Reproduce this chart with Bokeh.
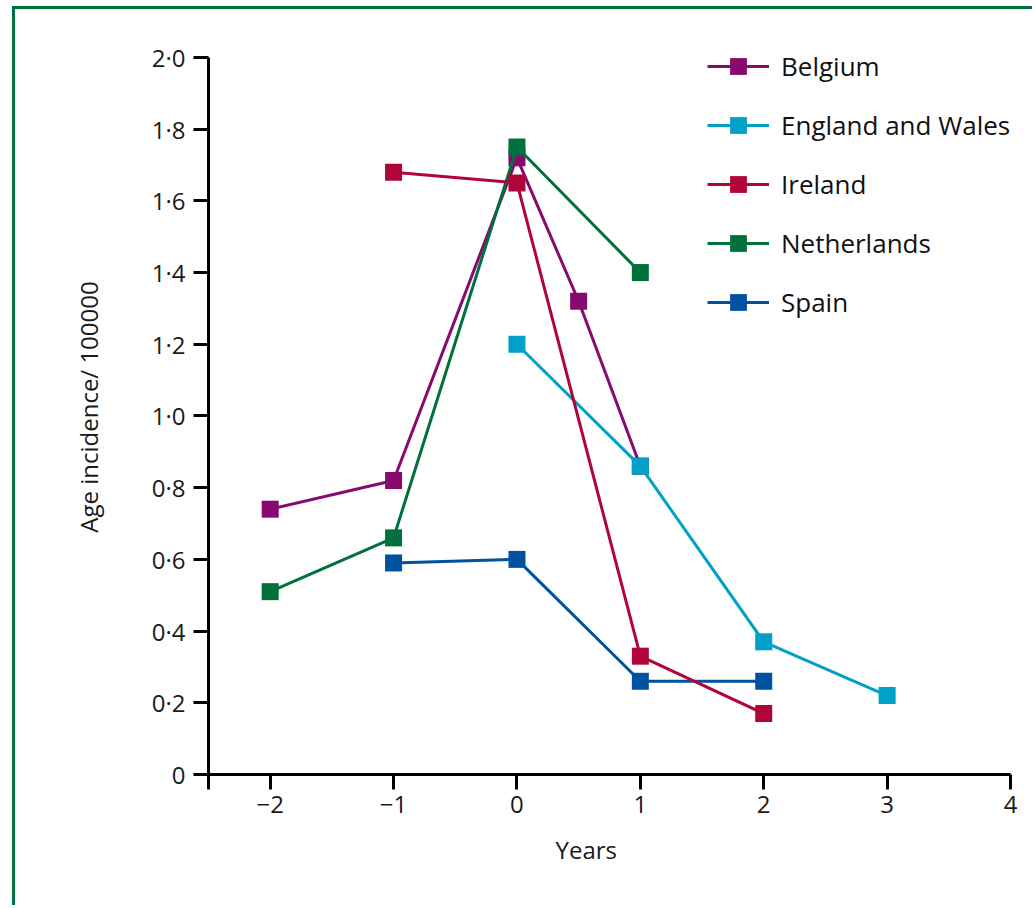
from bokeh.plotting import figure
from bokeh.models import (Range1d, FixedTicker, CustomJSTickFormatter, Legend, LegendItem, Title, LinearAxis)
from bokeh.embed import file_html
from bokeh.resources import INLINE

# ---- data ----
series_names = ["Belgium", "England and Wales", "Ireland", "Netherlands", "Spain"]
belgium_x = [-2, -1, 0, 0.5, 1]
belgium_y = [0.74, 0.82, 1.72, 1.32, 0.86]
england_x = [0, 1, 2, 3]
england_y = [1.20, 0.86, 0.37, 0.22]
ireland_x = [-1, 0, 1, 2]
ireland_y = [1.68, 1.65, 0.33, 0.17]
netherlands_x = [-2, -1, 0, 1]
netherlands_y = [0.51, 0.66, 1.75, 1.40]
spain_x = [-1, 0, 1, 2]
spain_y = [0.59, 0.60, 0.26, 0.26]
x_ticks = [-2.5, -2, -1, 0, 1, 2, 3, 4]
y_ticks = [0, 0.2, 0.4, 0.6, 0.8, 1.0, 1.2, 1.4, 1.6, 1.8, 2.0]
x_label = "Years"
y_label = "Age incidence/ 100000"

colors = {
    "Belgium": "#870A6E",
    "England and Wales": "#00A0C8",
    "Ireland": "#B00538",
    "Netherlands": "#00703C",
    "Spain": "#0052A0",
}
data = {
    "Belgium": (belgium_x, belgium_y),
    "England and Wales": (england_x, england_y),
    "Ireland": (ireland_x, ireland_y),
    "Netherlands": (netherlands_x, netherlands_y),
    "Spain": (spain_x, spain_y),
}

FONT = "Open Sans"

p = figure(width=1020, height=899, x_range=Range1d(-2.5, 4.0), y_range=Range1d(0, 2.05),
           output_backend="svg", toolbar_location=None,
           min_border_left=193, min_border_right=25, min_border_top=30, min_border_bottom=134,
           x_axis_location=None, y_axis_location=None)
p.margin = (6, 0, 0, 12)
p.styles = {"border-top": "3px solid #00703C", "border-left": "3px solid #00703C"}
p.outline_line_color = None
p.grid.visible = False
p.background_fill_color = "white"
p.border_fill_color = "white"

xaxis = LinearAxis()
yaxis = LinearAxis(bounds=(0, 2.0))
p.add_layout(xaxis, "below")
p.add_layout(yaxis, "left")

for ax in (xaxis, yaxis):
    ax.axis_line_width = 3
    ax.axis_line_color = "black"
    ax.major_tick_line_width = 3
    ax.major_tick_line_color = "black"
    ax.major_tick_out = 15
    ax.major_tick_in = 0
    ax.minor_tick_line_color = None
    ax.major_label_text_font = FONT
    ax.major_label_text_font_size = "24px"
    ax.major_label_text_color = "#1a1a1a"

xaxis.ticker = FixedTicker(ticks=x_ticks)
xaxis.formatter = CustomJSTickFormatter(code="""
if (tick < -2.25) return "";
return tick < 0 ? "\\u2212" + Math.abs(tick) : String(tick);
""")
xaxis.major_label_standoff = 6

yaxis.ticker = FixedTicker(ticks=y_ticks)
yaxis.formatter = CustomJSTickFormatter(code="""
if (Math.abs(tick) < 1e-9) return "0";
return tick.toFixed(1).replace(".", "\\u00b7");
""")
yaxis.major_label_standoff = 8
yaxis.axis_label = y_label
yaxis.axis_label_text_font = FONT
yaxis.axis_label_text_font_size = "24px"
yaxis.axis_label_text_font_style = "normal"
yaxis.axis_label_text_color = "#1a1a1a"
yaxis.axis_label_standoff = 44

p.add_layout(Title(text=x_label, align="left", offset=347, text_font=FONT,
                   text_font_size="24px", text_font_style="normal",
                   text_color="#1a1a1a", standoff=30), "below")

draw_order = ["Spain", "Belgium", "Netherlands", "England and Wales", "Ireland"]
rends = {}
for name in draw_order:
    xs, ys = data[name]
    c = colors[name]
    l = p.line(xs, ys, line_color=c, line_width=3)
    s = p.scatter(xs, ys, marker="square", size=17, fill_color=c, line_color=c, line_width=0)
    rends[name] = [l, s]

items = [LegendItem(label=n, renderers=rends[n]) for n in series_names]
legend = Legend(items=items, location=(499, 451), orientation="vertical",
                glyph_width=62, glyph_height=42, label_height=42, spacing=17,
                label_standoff=12, padding=0, margin=0,
                border_line_color=None, background_fill_alpha=0,
                label_text_font=FONT, label_text_font_size="26px", label_text_color="#111111")
p.add_layout(legend, "center")

open("out.html", "w").write(file_html(p, INLINE))
